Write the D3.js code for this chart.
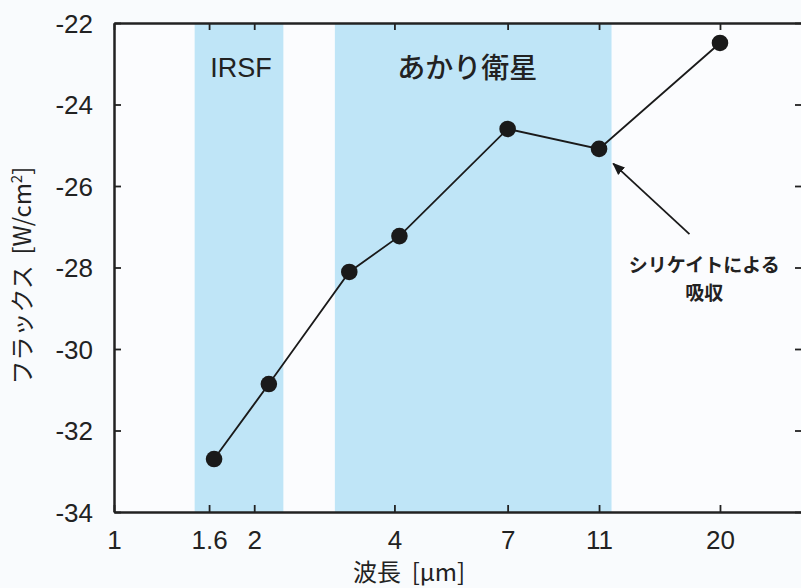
<!DOCTYPE html>
<html>
<head>
<meta charset="utf-8">
<script src="https://cdn.jsdelivr.net/npm/d3@7"></script>
<style>
  body { margin: 0; background: #f9fbfd; }
  svg { display: block; }
  text { font-family: "Liberation Sans", Arial, "Noto Sans CJK JP", sans-serif; fill: #222; }
  .jp { font-family: "Noto Sans CJK JP", sans-serif; }
  .title { white-space: pre; }
</style>
</head>
<body>
<div id="chart"></div>
<script>
// data
var wavelengths = [1.64, 2.15, 3.2, 4.1, 7, 11, 20];
var fluxes = [-32.7, -30.86, -28.11, -27.23, -24.6, -25.09, -22.49];
var xTicks = [1, 1.6, 2, 4, 7, 11, 20];
var yTicks = [-34, -32, -30, -28, -26, -24, -22];
var bandNames = ["IRSF", "あかり衛星"];
var bandRanges = [[1.49, 2.31], [2.98, 11.7]];

var W = 801, H = 588;
var margin = { top: 23, right: -1, bottom: 76, left: 114 };
var width = W - margin.left - margin.right,
    height = H - margin.top - margin.bottom;

var svg = d3.select("#chart").append("svg")
    .attr("width", W)
    .attr("height", H);

var g = svg.append("g")
    .attr("transform", "translate(" + margin.left + "," + margin.top + ")");

var x = d3.scaleLog().domain([1, 30]).range([0, width]);
var y = d3.scaleLinear().domain([-34, -22]).range([height, 0]);

// plot background
g.append("rect")
    .attr("width", width)
    .attr("height", height)
    .attr("fill", "#fbfcfe");

// observation bands
g.selectAll(".band")
    .data(bandRanges)
    .enter()
    .append("rect")
    .attr("x", function (d) { return x(d[0]); })
    .attr("width", function (d) { return x(d[1]) - x(d[0]); })
    .attr("y", 0)
    .attr("height", height)
    .attr("fill", "#bfe5f7");

g.selectAll(".bandlabel")
    .data(bandNames)
    .enter()
    .append("text")
    .attr("class", function (d, i) { return i == 1 ? "jp" : null; })
    .attr("x", function (d, i) {
        return (x(bandRanges[i][0]) + x(bandRanges[i][1])) / 2 + (i == 1 ? -6 : 2);
    })
    .attr("y", function (d, i) { return i == 1 ? 55 : 54; })
    .attr("text-anchor", "middle")
    .style("font-size", function (d, i) { return i == 1 ? "28px" : "27px"; })
    .style("font-weight", function (d, i) { return i == 1 ? "500" : "normal"; })
    .text(function (d) { return d; });

// axes
var tickFmt = function (d) { return d; };
g.append("g")
    .attr("transform", "translate(0," + height + ")")
    .call(d3.axisBottom(x).tickValues(xTicks).tickFormat(tickFmt).tickSizeInner(-7).tickSizeOuter(0).tickPadding(19))
    .call(function (a) { a.selectAll("text").style("font-size", "26px"); });
g.append("g")
    .call(d3.axisTop(x).tickValues(xTicks).tickFormat("").tickSizeInner(-7).tickSizeOuter(0));
g.append("g")
    .call(d3.axisLeft(y).tickValues(yTicks).tickFormat(tickFmt).tickSizeInner(-7).tickSizeOuter(0).tickPadding(21))
    .call(function (a) { a.selectAll("text").style("font-size", "26px").attr("dy", "0.36em"); });
g.append("g")
    .attr("transform", "translate(" + width + ",0)")
    .call(d3.axisRight(y).tickValues(yTicks).tickFormat("").tickSizeInner(-7).tickSizeOuter(0));

g.selectAll(".domain").attr("stroke", "#222").attr("stroke-width", 2.5);
g.selectAll(".tick line").attr("stroke", "#222").attr("stroke-width", 1.8);

// data line and points
var line = d3.line()
    .x(function (d, i) { return x(wavelengths[i]); })
    .y(function (d) { return y(d); });

g.append("path")
    .datum(fluxes)
    .attr("d", line)
    .attr("fill", "none")
    .attr("stroke", "#1a1a1a")
    .attr("stroke-width", 1.8);

g.selectAll(".pt")
    .data(fluxes)
    .enter()
    .append("circle")
    .attr("cx", function (d, i) { return x(wavelengths[i]); })
    .attr("cy", function (d) { return y(d); })
    .attr("r", 8.3)
    .attr("fill", "#1a1a1a");

// annotation arrow toward the 11 micron point
svg.append("defs").append("marker")
    .attr("id", "arrow")
    .attr("viewBox", "0 0 10 10")
    .attr("refX", 9).attr("refY", 5)
    .attr("markerWidth", 7).attr("markerHeight", 7)
    .attr("orient", "auto")
    .append("path")
    .attr("d", "M0,1 L10,5 L0,9 Z")
    .attr("fill", "#1a1a1a");

g.append("line")
    .attr("x1", x(17.2)).attr("y1", y(-27.18))
    .attr("x2", x(11.8)).attr("y2", y(-25.45))
    .attr("stroke", "#1a1a1a")
    .attr("stroke-width", 1.8)
    .attr("marker-end", "url(#arrow)");

var note = g.append("text")
    .attr("class", "jp")
    .attr("text-anchor", "middle")
    .style("font-size", "19px")
    .style("font-weight", "bold");
note.append("tspan").attr("x", x(18.5)).attr("y", y(-28.1)).text("シリケイトによる");
note.append("tspan").attr("x", x(18.5)).attr("dy", 28).text("吸収");

// axis titles
svg.append("text")
    .attr("class", "jp title")
    .attr("x", margin.left + x(4.3))
    .attr("y", 581)
    .attr("text-anchor", "middle")
    .style("font-size", "24px")
    .style("font-weight", "normal")
    .text("波長  [μm]");

var ylab = svg.append("text")
    .attr("class", "jp title")
    .attr("transform", "translate(31," + (margin.top + y(-28.2)) + ") rotate(-90)")
    .attr("text-anchor", "middle")
    .style("font-size", "24px")
    .style("font-weight", "normal");
ylab.append("tspan").text("フラックス  [W/cm");
ylab.append("tspan").attr("dy", -9).style("font-size", "15px").text("2");
ylab.append("tspan").attr("dy", 9).text("]");
</script>
</body>
</html>
